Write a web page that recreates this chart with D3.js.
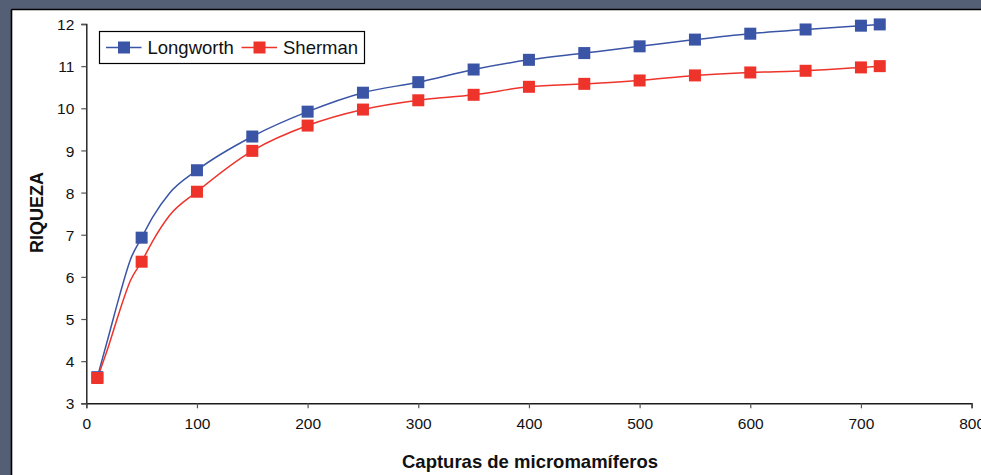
<!DOCTYPE html>
<html>
<head>
<meta charset="utf-8">
<script src="https://cdn.jsdelivr.net/npm/d3@7"></script>
<style>
  html, body { margin: 0; padding: 0; background: #545f76; }
  svg { display: block; }
</style>
</head>
<body>
<svg id="chart" width="981" height="475"></svg>
<script>
// ---- data ----
const captures   = [10, 50, 100, 150, 200, 250, 300, 350, 400, 450, 500, 550, 600, 650, 700, 717];
const longworth  = [3.62, 6.93, 8.53, 9.33, 9.92, 10.37, 10.62, 10.92, 11.15, 11.31, 11.47, 11.63, 11.77, 11.87, 11.96, 11.99];
const sherman    = [3.60, 6.36, 8.02, 8.99, 9.59, 9.97, 10.19, 10.32, 10.51, 10.58, 10.66, 10.78, 10.85, 10.89, 10.97, 11.00];
// extra points of the rarefaction curve between markers (steep start)
const extraCaptures  = [20, 30, 40, 60, 75];
const extraLongworth = [4.58, 5.55, 6.42, 7.42, 7.98];
const extraSherman   = [4.35, 5.18, 5.92, 6.85, 7.45];

const seriesNames  = ["Longworth", "Sherman"];
const seriesColors = ["#3a54a6", "#ee332b"];
const xTicks = [0, 100, 200, 300, 400, 500, 600, 700, 800];
const yTicks = [3, 4, 5, 6, 7, 8, 9, 10, 11, 12];
const xTitle = "Capturas de micromamíferos";
const yTitle = "RIQUEZA";

// ---- layout ----
const svg = d3.select("#chart");
const W = 981, H = 475;
svg.append("rect").attr("x", 0).attr("y", 0).attr("width", W).attr("height", H).attr("fill", "#545f76");
svg.append("rect").attr("x", 12).attr("y", 10).attr("width", W - 12).attr("height", H - 10).attr("fill", "#ffffff");
svg.append("line").attr("x1", 11.5).attr("x2", W).attr("y1", 9.5).attr("y2", 9.5).attr("stroke", "#000").attr("stroke-width", 1.6);
svg.append("line").attr("x1", 11.5).attr("x2", 11.5).attr("y1", 9.5).attr("y2", H).attr("stroke", "#000").attr("stroke-width", 1.6);

const x = d3.scaleLinear().domain([0, 800]).range([86.3, 971.6]);
const y = d3.scaleLinear().domain([3, 12]).range([403.3, 24]);

const font = "'Liberation Sans', Arial, sans-serif";

// axes
const yAxis = svg.append("g").attr("transform", `translate(${x(0)},0)`)
  .call(d3.axisLeft(y).tickValues(yTicks).tickSize(5).tickPadding(7).tickFormat(d3.format("d")));
const xAxis = svg.append("g").attr("transform", `translate(0,${y(3)})`)
  .call(d3.axisBottom(x).tickValues(xTicks).tickSize(5).tickPadding(10).tickFormat(d3.format("d")));
[yAxis, xAxis].forEach(g => {
  g.select(".domain").attr("stroke", "#1a1a1a").attr("stroke-width", 1.4);
  g.selectAll(".tick line").attr("stroke", "#555").attr("stroke-width", 1.2);
  g.selectAll(".tick text").attr("font-family", font).attr("font-size", 15.5).attr("fill", "#111");
});
yAxis.selectAll(".tick text").attr("dy", "0.36em");

// titles
svg.append("text").attr("x", 530).attr("y", 468).attr("text-anchor", "middle")
  .attr("font-family", font).attr("font-weight", "bold").attr("font-size", 18.5).attr("fill", "#111")
  .text(xTitle);
svg.append("text").attr("transform", `translate(42.5,212.5) rotate(-90)`).attr("text-anchor", "middle")
  .attr("font-family", font).attr("font-weight", "bold").attr("font-size", 18).attr("fill", "#111")
  .text(yTitle);

// series
const seriesData = [longworth, sherman];
const extraData = [extraLongworth, extraSherman];
const line = d3.line().x(d => x(d[0])).y(d => y(d[1])).curve(d3.curveMonotoneX);

seriesData.forEach((vals, i) => {
  const pts = captures.map((c, j) => [c, vals[j]])
    .concat(extraCaptures.map((c, j) => [c, extraData[i][j]]))
    .sort((a, b) => a[0] - b[0]);
  svg.append("path").datum(pts).attr("d", line)
    .attr("fill", "none").attr("stroke", seriesColors[i]).attr("stroke-width", 1.5);
});
seriesData.forEach((vals, i) => {
  svg.append("g").selectAll("rect").data(captures.map((c, j) => [c, vals[j]])).join("rect")
    .attr("x", d => x(d[0]) - 6).attr("y", d => y(d[1]) - 6)
    .attr("width", 12).attr("height", 12).attr("fill", seriesColors[i]);
});

// legend
const lg = svg.append("g");
lg.append("rect").attr("x", 99.5).attr("y", 31.5).attr("width", 265).attr("height", 32)
  .attr("fill", "#fff").attr("stroke", "#000").attr("stroke-width", 1.2);
const legendX = [106, 241.5];
seriesNames.forEach((name, i) => {
  const lx = legendX[i];
  lg.append("line").attr("x1", lx).attr("x2", lx + 35.5).attr("y1", 47.5).attr("y2", 47.5)
    .attr("stroke", seriesColors[i]).attr("stroke-width", 1.5);
  lg.append("rect").attr("x", lx + 12).attr("y", 41.5).attr("width", 12).attr("height", 12).attr("fill", seriesColors[i]);
  lg.append("text").attr("x", lx + 41.5).attr("y", 54).attr("font-family", font)
    .attr("font-size", 18.5).attr("fill", "#111").text(name);
});
</script>
</body>
</html>
